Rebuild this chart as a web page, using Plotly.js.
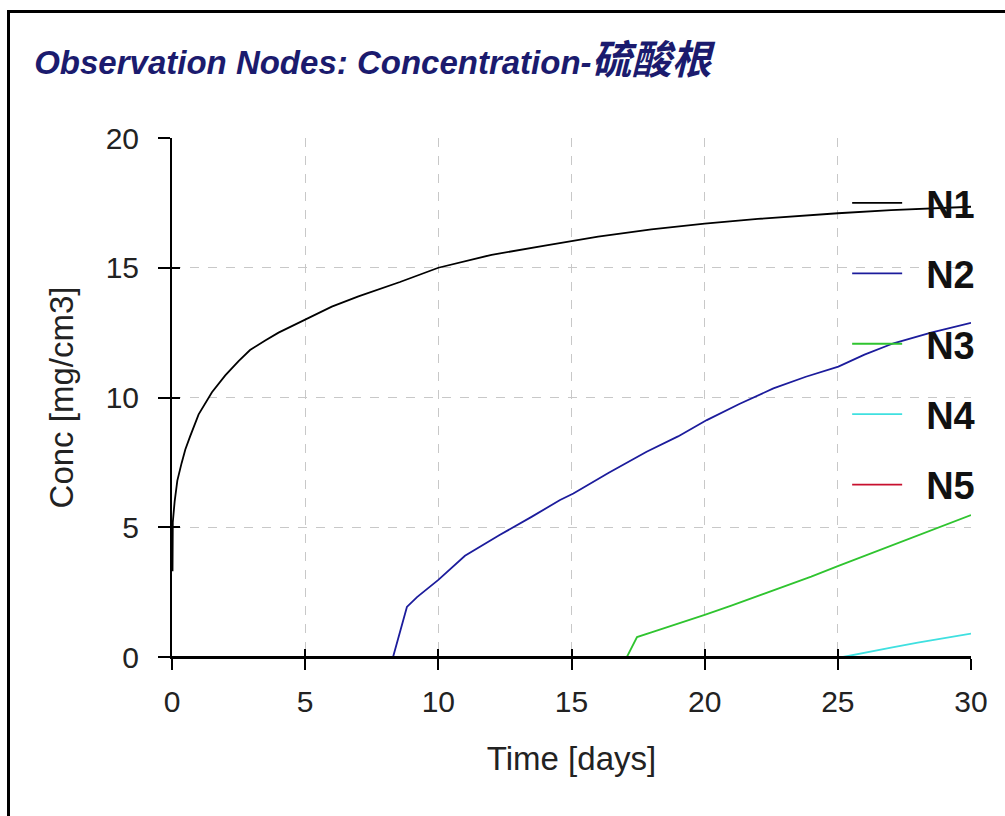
<!DOCTYPE html>
<html>
<head>
<meta charset="utf-8">
<script src="https://cdn.plot.ly/plotly-3.0.1.min.js"></script>
<style>
  html, body { margin: 0; padding: 0; background: #ffffff; }
  #wrap { position: relative; width: 1005px; height: 816px; overflow: hidden; }
  #chart { position: absolute; left: 0; top: 0; width: 1005px; height: 816px; }
  .bTop { position: absolute; left: 7px; top: 10px; width: 998px; height: 3px; background: #000; z-index: 5; }
  .bLeft { position: absolute; left: 7px; top: 10px; width: 3px; height: 806px; background: #000; z-index: 5; }
</style>
</head>
<body>
<div id="wrap">
  <div id="chart"></div>
  <div class="bTop"></div>
  <div class="bLeft"></div>
</div>
<script>
// ---- data ----
const seriesNames = ["N1", "N2", "N3", "N4", "N5"];

const timeN1 = [0.02, 0.03, 0.1, 0.2, 0.36, 0.5, 0.68, 1.0, 1.5, 2.0, 2.5, 2.93, 3.5, 4.0, 5.0, 6.0, 7.0, 8.0, 8.56, 10.0, 12.0, 14.0, 15.0, 16.0, 18.0, 20.0, 22.0, 24.0, 25.0, 27.0, 30.0];
const concN1 = [3.3, 5.2, 6.0, 6.8, 7.47, 8.0, 8.5, 9.35, 10.2, 10.85, 11.4, 11.83, 12.2, 12.5, 13.0, 13.5, 13.9, 14.25, 14.45, 15.0, 15.5, 15.85, 16.03, 16.2, 16.48, 16.7, 16.88, 17.03, 17.1, 17.22, 17.35];

const timeN2 = [8.3, 8.82, 9.2, 10.0, 11.0, 12.3, 13.5, 14.57, 15.07, 16.4, 17.82, 19.0, 20.08, 21.3, 22.58, 23.8, 25.02, 26.0, 27.09, 28.5, 30.0];
const concN2 = [0.0, 1.93, 2.31, 2.97, 3.9, 4.7, 5.4, 6.05, 6.3, 7.1, 7.91, 8.5, 9.13, 9.75, 10.35, 10.8, 11.19, 11.65, 12.09, 12.5, 12.88];

const timeN3 = [17.08, 17.46, 18.0, 19.0, 20.0, 21.0, 22.0, 23.0, 24.0, 25.0, 26.0, 27.0, 28.0, 29.0, 30.0];
const concN3 = [0.0, 0.77, 0.95, 1.28, 1.62, 1.98, 2.35, 2.72, 3.1, 3.5, 3.9, 4.3, 4.68, 5.07, 5.47];

const timeN4 = [25.2, 26.0, 27.0, 28.0, 29.0, 30.0];
const concN4 = [0.0, 0.17, 0.36, 0.55, 0.73, 0.9];

// N5 stays at zero (hidden under the time axis in the reference)
const timeN5 = [0.0, 30.0];
const concN5 = [0.0, 0.0];

const xTickVals = [0, 5, 10, 15, 20, 25, 30];
const yTickVals = [0, 5, 10, 15, 20];

const titleLatin = "Observation Nodes: Concentration-";
const titleCJK = "硫酸根";
const xTitle = "Time [days]";
const yTitle = "Conc [mg/cm3]";

// ---- styling ----
const colors = ["#000000", "#1c1c9c", "#2fc42f", "#3fe0e0", "#c8102e"];
const xs = [timeN1, timeN2, timeN3, timeN4, timeN5];
const ys = [concN1, concN2, concN3, concN4, concN5];
const FONT = "Liberation Sans, Arial, Noto Sans CJK SC, sans-serif";

const traces = seriesNames.map((name, i) => ({
  type: "scatter",
  mode: "lines",
  name: "\u2002" + name,
  legendgroup: name,
  x: xs[i],
  y: ys[i],
  line: { color: colors[i], width: 1.8 },
  hoverinfo: "skip"
}));

// overlay axes for inside tick marks (ticks cross the axis line)
traces.push({
  type: "scatter", mode: "lines", x: [0, 30], y: [0, 0],
  xaxis: "x2", yaxis: "y2", showlegend: false, hoverinfo: "skip",
  line: { color: "rgba(0,0,0,0)", width: 0 }
});

const layout = {
  width: 1005,
  height: 816,
  paper_bgcolor: "#ffffff",
  plot_bgcolor: "#ffffff",
  margin: { l: 172, r: 34, t: 138, b: 159 },
  font: { family: FONT, color: "#222222" },
  title: {
    text: "<b><i>" + titleLatin + "<span style='font-size:40px'>" + titleCJK + "</span></i></b>",
    font: { family: FONT, size: 33, color: "#1b1b6e" },
    xref: "container", yref: "container",
    x: 0.034, xanchor: "left",
    y: 0.924, yanchor: "middle"
  },
  xaxis: {
    range: [0, 30],
    tickvals: xTickVals,
    ticktext: xTickVals.map(String),
    ticks: "outside", ticklen: 11, tickwidth: 2, tickcolor: "#000",
    ticklabelstandoff: 6,
    showline: true, linecolor: "#000", linewidth: 2,
    showgrid: true, gridcolor: "#c8c8c8", gridwidth: 1, griddash: "dash",
    zeroline: false,
    tickfont: { family: FONT, size: 30, color: "#222222" },
    title: { text: xTitle, font: { family: FONT, size: 33, color: "#222222" }, standoff: 30 },
    fixedrange: true
  },
  yaxis: {
    range: [0, 20],
    tickvals: yTickVals,
    ticktext: yTickVals.map(String),
    ticks: "outside", ticklen: 12, tickwidth: 2, tickcolor: "#000",
    ticklabelstandoff: 13,
    showline: true, linecolor: "#000", linewidth: 2,
    showgrid: true, gridcolor: "#c8c8c8", gridwidth: 1, griddash: "dash",
    zeroline: false,
    tickfont: { family: FONT, size: 30, color: "#222222" },
    title: { text: yTitle, font: { family: FONT, size: 33, color: "#222222" }, standoff: 22 },
    fixedrange: true
  },
  xaxis2: {
    overlaying: "x", range: [0, 30], tickvals: xTickVals, showticklabels: false,
    ticks: "inside", ticklen: 8, tickwidth: 2, tickcolor: "#000",
    showgrid: false, zeroline: false, showline: false, fixedrange: true
  },
  yaxis2: {
    overlaying: "y", range: [0, 20], tickvals: yTickVals, showticklabels: false,
    ticks: "inside", ticklen: 8, tickwidth: 2, tickcolor: "#000",
    showgrid: false, zeroline: false, showline: false, fixedrange: true
  },
  // time axis line redrawn above the traces (the zero series hides beneath it)
  shapes: [{
    type: "line", layer: "above",
    xref: "x", yref: "y", x0: 0, x1: 30, y0: 0, y1: 0,
    line: { color: "#000000", width: 2 }
  }],
  showlegend: true,
  legend: {
    x: 0.845, xanchor: "left",
    y: 0.935, yanchor: "top",
    bgcolor: "rgba(0,0,0,0)",
    borderwidth: 0,
    font: { family: FONT, size: 38, color: "#111111", weight: "bold" },
    itemwidth: 50,
    tracegroupgap: 18,
    traceorder: "grouped"
  }
};

Plotly.newPlot("chart", traces, layout, { displayModeBar: false, staticPlot: true });
</script>
</body>
</html>
